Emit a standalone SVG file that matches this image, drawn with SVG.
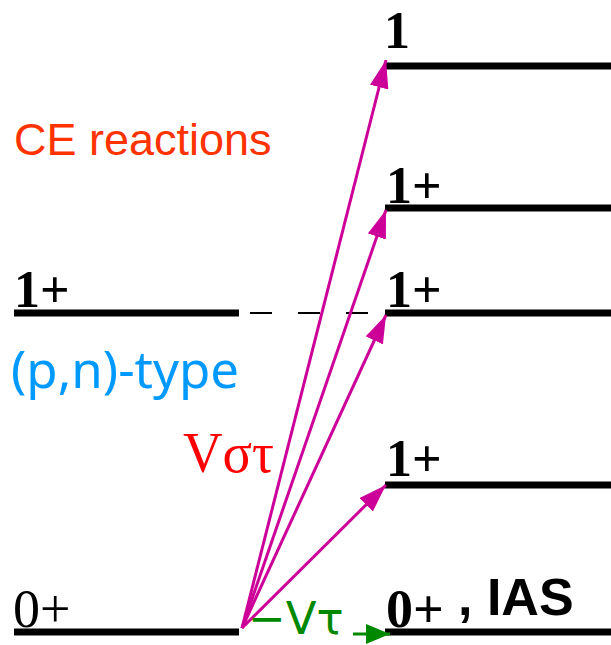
<svg xmlns="http://www.w3.org/2000/svg" width="611" height="645" viewBox="0 0 611 645">
<style>
.lvl{stroke:#000;stroke-width:7;fill:none}
.lab{font-family:"Liberation Serif","DejaVu Serif",serif;font-weight:bold;font-size:52px;fill:#000}
.zero{font-family:"Liberation Serif","DejaVu Serif",serif;font-size:54px;fill:#000}
.arr{stroke:#cc0099;stroke-width:3;fill:none;marker-end:url(#mm)}
</style>
<defs>
<marker id="mm" viewBox="0 0 10 10" refX="10" refY="5" markerWidth="28" markerHeight="19" markerUnits="userSpaceOnUse" orient="auto" preserveAspectRatio="none">
<path d="M0,0 L10,5 L0,10 z" fill="#cc0099"/>
</marker>
<marker id="mg" viewBox="0 0 10 10" refX="10" refY="5" markerWidth="24" markerHeight="20" markerUnits="userSpaceOnUse" orient="auto" preserveAspectRatio="none">
<path d="M0,0 L10,5 L0,10 z" fill="#008800"/>
</marker>
</defs>
<g id="left-1plus">
<line class="lvl" x1="14" y1="313" x2="239" y2="313"/>
<text class="lab" x="14" y="307" font-size="46">1+</text>
</g>
<g id="left-0plus">
<line class="lvl" x1="14" y1="632" x2="239" y2="632"/>
<text class="zero" x="13" y="627">0+</text>
</g>
<g id="right-1">
<line class="lvl" x1="385" y1="66" x2="611" y2="66"/>
<text class="lab" x="384" y="48" font-size="56">1</text>
</g>
<g id="right-1plus-a">
<line class="lvl" x1="385" y1="208" x2="611" y2="208"/>
<text class="lab" x="386" y="203">1+</text>
</g>
<g id="right-1plus-b">
<line class="lvl" x1="385" y1="313" x2="611" y2="313"/>
<text class="lab" x="386" y="307">1+</text>
</g>
<g id="right-1plus-c">
<line class="lvl" x1="385" y1="485" x2="611" y2="485"/>
<text class="lab" x="386" y="476">1+</text>
</g>
<g id="right-0plus">
<line class="lvl" x1="385" y1="632" x2="611" y2="632"/>
<text class="zero" x="386" y="627" font-weight="bold">0+</text>
<text x="458" y="615" font-family="Liberation Sans,Arial,sans-serif" font-weight="bold" font-size="52">, IAS</text>
</g>
<g id="titles">
<text x="14" y="155" font-family="Liberation Sans,Arial,sans-serif" font-size="45" fill="#ff3300">CE reactions</text>
<text x="11" y="388" font-family="Noto Sans,DejaVu Sans,sans-serif" font-size="51" fill="#0099ff">(p,n)-type</text>
<text x="183" y="472" font-family="Liberation Serif,DejaVu Serif,serif" font-size="58" fill="#ff0000" textLength="91" lengthAdjust="spacingAndGlyphs">Vστ</text>
</g>
<g id="connectors">
<line x1="250" y1="313" x2="370" y2="313" stroke="#000" stroke-width="2" stroke-dasharray="22,26"/>
<line class="arr" x1="242" y1="628" x2="386" y2="60"/>
<line class="arr" x1="242" y1="628" x2="386" y2="210"/>
<line class="arr" x1="242" y1="628" x2="386" y2="315"/>
<line class="arr" x1="242" y1="628" x2="386" y2="485"/>
<line x1="353" y1="634" x2="390" y2="634" stroke="#008800" stroke-width="3" marker-end="url(#mg)"/>
<text x="248" y="634" font-family="DejaVu Sans,Liberation Sans,sans-serif" font-size="45" fill="#008800">−Vτ</text>
</g>
</svg>
